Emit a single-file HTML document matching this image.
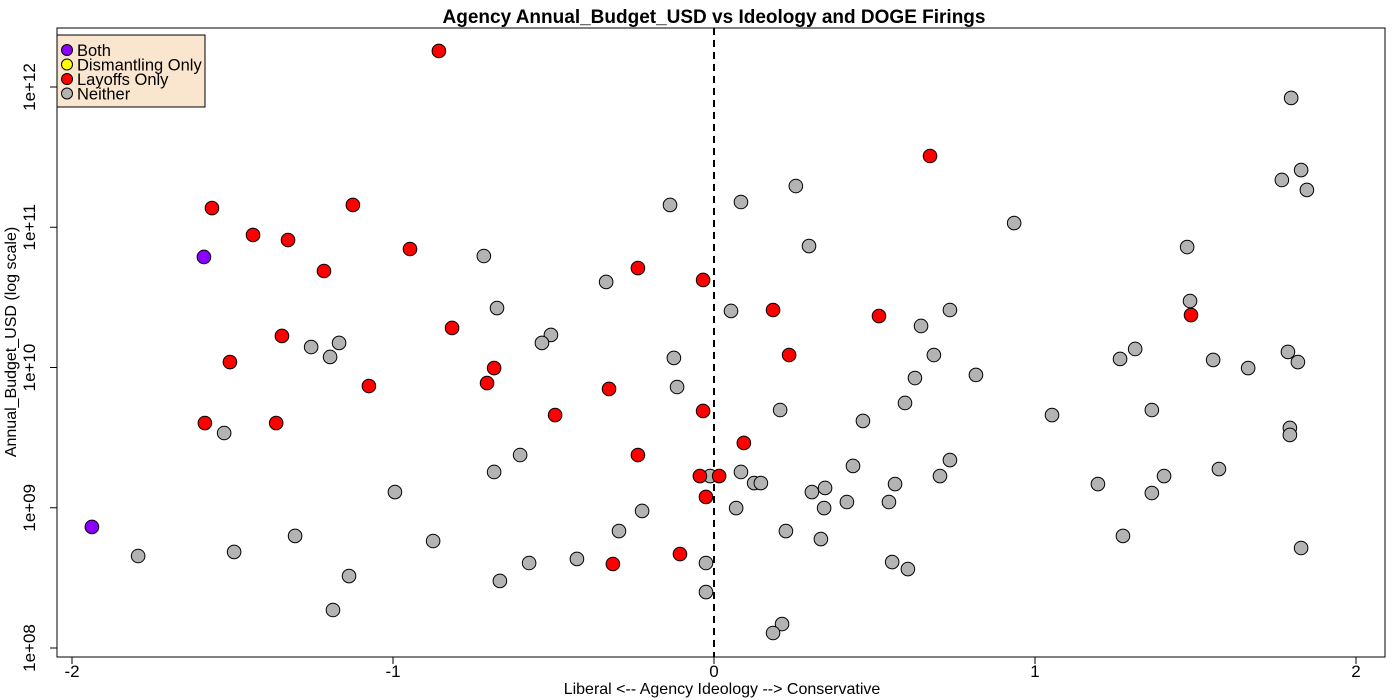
<!DOCTYPE html>
<html><head><meta charset="utf-8"><style>
body{margin:0;background:#fff;}
svg{display:block;font-family:"Liberation Sans",Arial,sans-serif;}
</style></head><body>
<svg id="chart" width="1400" height="700" viewBox="0 0 1400 700"></svg>
<script>
// data: ideology scores and log10 of annual budget (USD)
const grayX=[1.798,0.255,1.829,1.769,1.847,0.084,-0.137,0.935,0.296,1.474,-0.717,-0.336,1.483,-0.676,0.053,0.735,0.645,-0.508,-1.168,-0.536,-1.255,1.312,0.685,-1.196,-0.125,1.788,1.265,1.555,1.819,1.664,0.816,0.626,-0.115,0.595,0.206,1.364,1.053,0.464,1.794,1.794,-1.526,-0.604,0.735,0.433,1.573,-0.685,0.084,-0.012,0.704,1.402,0.125,0.146,0.564,1.196,0.346,0.305,-0.994,1.364,0.414,0.545,0.343,0.069,-0.224,-0.296,0.224,-1.305,1.274,0.333,-0.875,1.829,-1.495,-1.794,-0.427,-0.576,0.555,-0.025,0.604,-1.137,-0.667,-0.025,-1.187,0.212,0.184];
const grayLogB=[11.922,11.294,11.408,11.337,11.266,11.180,11.159,11.030,10.866,10.859,10.795,10.610,10.474,10.424,10.403,10.410,10.296,10.232,10.175,10.175,10.146,10.132,10.089,10.075,10.068,10.111,10.061,10.054,10.039,9.996,9.947,9.925,9.861,9.747,9.697,9.697,9.661,9.619,9.569,9.519,9.533,9.376,9.340,9.298,9.276,9.255,9.255,9.226,9.226,9.226,9.176,9.176,9.169,9.169,9.141,9.112,9.112,9.105,9.041,9.041,8.998,8.998,8.977,8.834,8.834,8.799,8.799,8.777,8.763,8.713,8.685,8.656,8.635,8.606,8.613,8.606,8.563,8.513,8.478,8.399,8.271,8.171,8.107];
const redX=[-0.857,0.673,-1.564,-1.125,-1.436,-1.327,-0.947,-1.215,-0.237,-0.034,0.184,0.514,1.486,-0.816,-1.346,0.234,-1.508,-0.685,-1.075,-0.707,-0.327,-0.495,-0.034,-1.586,-1.364,0.093,-0.237,-0.044,0.016,-0.025,-0.106,-0.315];
const redLogB=[12.257,11.508,11.137,11.159,10.945,10.909,10.845,10.688,10.709,10.624,10.410,10.367,10.374,10.282,10.225,10.089,10.039,9.996,9.868,9.889,9.847,9.661,9.690,9.604,9.604,9.462,9.376,9.226,9.226,9.077,8.670,8.599];
const purpleX=[-1.589,-1.938];
const purpleLogB=[10.788,8.863];
const xTicks=[-2,-1,0,1,2];
const xTickLabels=["-2","-1","0","1","2"];
const yTicks=[8,9,10,11,12];
const yTickLabels=["1e+08","1e+09","1e+10","1e+11","1e+12"];

const NS="http://www.w3.org/2000/svg";
const svg=document.getElementById('chart');
const X0=72,X1=1356,Y8=648,YDEC=140.25;
function sx(v){return X0+(v+2)/4*(X1-X0);}
function sy(l){return Y8-(l-8)*YDEC;}
function mk(tag,attrs,parent){const e=document.createElementNS(NS,tag);for(const k in attrs)e.setAttribute(k,attrs[k]);(parent||svg).appendChild(e);return e;}

let frame=mk('rect',{x:57,y:28,width:1328,height:629,fill:'none',stroke:'#000','stroke-width':1});



let zl=mk('line',{x1:sx(0),x2:sx(0),y1:28,y2:657,stroke:'#000','stroke-width':2,'stroke-dasharray':'7,5'});



xTicks.forEach((t,i)=>{
  const x=sx(t);
  let tk=mk('line',{x1:x,x2:x,y1:657,y2:664,stroke:'#000'});
  
  
  let tx=mk('text',{x:x,y:677,'font-size':17,'text-anchor':'middle'});
  tx.textContent=xTickLabels[i];
  
  
});
yTicks.forEach((t,i)=>{
  const y=sy(t);
  let tk=mk('line',{x1:50,x2:57,y1:y,y2:y,stroke:'#000'});
  
  
  let tx=mk('text',{x:0,y:0,'font-size':17,'text-anchor':'middle',transform:`translate(35,${y}) rotate(-90)`});
  tx.textContent=yTickLabels[i];
  
  
});

function drawSeries(xs,ls,color,name){
  xs.forEach((v,i)=>{
    let c=mk('circle',{cx:sx(v),cy:sy(ls[i]),r:6.8,fill:color,stroke:'#000','stroke-width':1});
    
    
  });
}
drawSeries(grayX,grayLogB,'#b3b3b3','point-neither');
drawSeries(redX,redLogB,'#ff0000','point-layoffs-only');
drawSeries(purpleX,purpleLogB,'#8b00ff','point-both');

let title=mk('text',{x:714,y:23,'font-size':19,'font-weight':'bold','text-anchor':'middle'});
title.textContent='Agency Annual_Budget_USD vs Ideology and DOGE Firings';



let xt=mk('text',{x:722,y:694,'font-size':16,'text-anchor':'middle'});
xt.textContent='Liberal <-- Agency Ideology --> Conservative';



let yt=mk('text',{x:0,y:0,'font-size':16,'text-anchor':'middle',transform:'translate(16,342) rotate(-90)'});
yt.textContent='Annual_Budget_USD (log scale)';



const legendLabels=["Both","Dismantling Only","Layoffs Only","Neither"];
const legendColors=['#8b00ff','#ffff00','#ff0000','#b3b3b3'];
let lg=mk('g',{});


mk('rect',{x:57,y:35,width:148,height:72,fill:'#fae5cf',stroke:'#000'},lg);
legendLabels.forEach((lab,i)=>{
  const y=50+i*14.5;
  let e=mk('g',{},lg);
  
  
  mk('circle',{cx:67,cy:y,r:5.5,fill:legendColors[i],stroke:'#000'},e);
  let t=mk('text',{x:77,y:y+6,'font-size':16.5},e);
  t.textContent=lab;
});
</script>
</body></html>
